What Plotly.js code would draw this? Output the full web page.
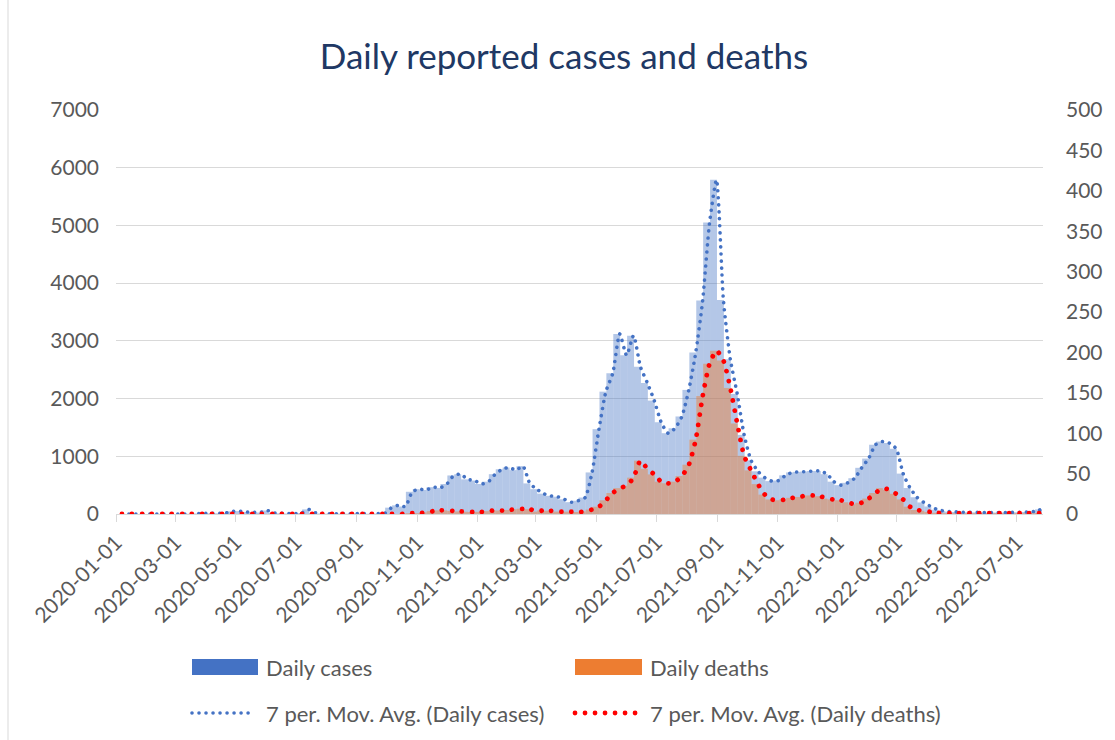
<!DOCTYPE html>
<html>
<head>
<meta charset="utf-8">
<script src="https://cdn.plot.ly/plotly-3.0.1.min.js"></script>
<style>
  html, body { margin: 0; padding: 0; background: #fff; }
  #chart { width: 1115px; height: 740px; }
  .js-line, .shapelayer path { stroke-linecap: round !important; }
</style>
</head>
<body>
<div id="chart"></div>
<script>
// Weekly blocks (7 days each) starting 2020-01-01; value = average daily count in the block
const blockCentre0 = '2020-01-04';   // centre of the first 7-day block (bars)
const blockEnd0 = '2020-01-07';      // last day of the first block (trailing 7-day average)
const WEEK_MS = 7 * 24 * 3600 * 1000;

const dailyCases = [
  0, 0, 0, 0, 0, 0, 0, 0, 0, 0,
  4, 9, 10, 10, 12, 18, 45, 50, 35, 30,
  25, 60, 20, 12, 8, 6, 15, 80, 20, 8,
  5, 5, 6, 5, 8, 6, 5, 6, 10, 110,
  150, 130, 385, 430, 416, 465, 452, 520, 668, 690,
  600, 580, 520, 560, 690, 775, 805, 760, 830, 530,
  430, 352, 315, 300, 255, 205, 230, 285, 720, 1470,
  2120, 2440, 3120, 2750, 3090, 2550, 2270, 1965, 1590, 1400,
  1485, 1690, 2150, 2800, 3700, 5050, 5790, 3710, 2680, 2080,
  1370, 930, 740, 630, 570, 580, 670, 720, 730, 735,
  745, 745, 690, 560, 500, 540, 620, 800, 960, 1200,
  1255, 1230, 1130, 700, 450, 290, 200, 130, 75, 50,
  40, 35, 30, 30, 28, 25, 25, 25, 25, 28,
  30, 35, 45, 80
];

const dailyDeaths = [
  0, 0, 0, 0, 0, 0, 0, 0, 0, 0,
  0, 0, 0, 0, 0, 0, 0, 0, 0, 0,
  0, 0, 0, 0, 0, 0, 0, 0, 0, 0,
  0, 0, 0, 0, 0, 0, 0, 0, 0, 0,
  0, 0.5, 1, 1, 2, 3.5, 4.5, 4.5, 3.7, 3.2,
  2.8, 2.5, 2.7, 3.5, 4.5, 4.3, 5, 5.8, 6.5, 6,
  3, 4.5, 4, 3, 2.9, 2.9, 2.5, 3.2, 5.5, 9,
  17, 26, 32, 35, 45, 66, 56, 49, 40, 38,
  40, 47, 61, 92, 146, 186, 202, 190, 156, 112,
  72, 54, 37, 24, 18, 17, 18, 20, 21, 23,
  23, 22, 19, 18, 17, 14.5, 12, 14, 19, 26,
  32, 30, 25, 18, 9, 5, 4, 2.5, 1.5, 1,
  1, 1, 1, 1, 1, 1, 1, 1, 1, 1,
  1, 1, 1, 1
];

const titleText = 'Daily reported cases and deaths';
const seriesNames = ['Daily cases', 'Daily deaths',
  '7 per. Mov. Avg. (Daily cases)', '7 per. Mov. Avg. (Daily deaths)'];
const casesTicks = [0, 1000, 2000, 3000, 4000, 5000, 6000, 7000];
const deathsTicks = [0, 50, 100, 150, 200, 250, 300, 350, 400, 450, 500];

const FONT = 'Lato, "Open Sans", sans-serif';
const GREY = '#595959';
const BLUE_DASH = '0.01px,7px';
const RED_DASH = '0.01px,10px';

// pixel -> paper helpers for the hand-made legend (plot area 116..1043 x 110..514)
const PL = 116, PR = 1043, PT = 110, PB = 514;
const px = v => (v - PL) / (PR - PL);
const py = v => (PB - v) / (PB - PT);

const traces = [
  {
    type: 'bar', name: seriesNames[0], x0: blockCentre0, dx: WEEK_MS, y: dailyCases,
    width: WEEK_MS, marker: { color: 'rgba(68,114,196,0.40)', line: { width: 0 } },
    xaxis: 'x', yaxis: 'y', hoverinfo: 'skip', showlegend: false
  },
  {
    type: 'bar', name: seriesNames[1], x0: blockCentre0, dx: WEEK_MS, y: dailyDeaths,
    width: WEEK_MS, marker: { color: 'rgba(237,125,49,0.45)', line: { width: 0 } },
    xaxis: 'x', yaxis: 'y2', hoverinfo: 'skip', showlegend: false
  },
  {
    type: 'scatter', mode: 'lines', name: seriesNames[2], x0: blockEnd0, dx: WEEK_MS, y: dailyCases,
    line: { color: '#4472C4', width: 3.6, dash: BLUE_DASH, shape: 'spline', smoothing: 0.6 },
    xaxis: 'x', yaxis: 'y3', hoverinfo: 'skip', showlegend: false
  },
  {
    type: 'scatter', mode: 'lines', name: seriesNames[3], x0: blockEnd0, dx: WEEK_MS, y: dailyDeaths,
    line: { color: '#FF0000', width: 4.8, dash: RED_DASH, shape: 'spline', smoothing: 0.6 },
    xaxis: 'x', yaxis: 'y4', hoverinfo: 'skip', showlegend: false
  }
];

const legendRow1 = 667, legendRow2 = 713;
const shapes = [
  // chart-area border (left edge)
  { type: 'line', xref: 'paper', yref: 'paper', x0: px(8), x1: px(8), y0: py(0), y1: py(740),
    line: { color: '#d9d9d9', width: 1 } },
  // legend keys
  { type: 'rect', xref: 'paper', yref: 'paper', x0: px(192), x1: px(258), y0: py(legendRow1 - 8), y1: py(legendRow1 + 8),
    fillcolor: '#4472C4', line: { width: 0 } },
  { type: 'rect', xref: 'paper', yref: 'paper', x0: px(575), x1: px(642), y0: py(legendRow1 - 8), y1: py(legendRow1 + 8),
    fillcolor: '#ED7D31', line: { width: 0 } },
  { type: 'line', xref: 'paper', yref: 'paper', x0: px(192), x1: px(254), y0: py(legendRow2), y1: py(legendRow2),
    line: { color: '#4472C4', width: 3.6, dash: BLUE_DASH } },
  { type: 'line', xref: 'paper', yref: 'paper', x0: px(575), x1: px(645), y0: py(legendRow2), y1: py(legendRow2),
    line: { color: '#FF0000', width: 4.8, dash: RED_DASH } }
];

const legendText = (txt, x, y) => ({
  text: txt, xref: 'paper', yref: 'paper', x: px(x), y: py(y), xanchor: 'left', yanchor: 'middle',
  showarrow: false, font: { family: FONT, size: 22, color: GREY }
});
const annotations = [
  legendText(seriesNames[0], 264, legendRow1),
  legendText(seriesNames[1], 648, legendRow1),
  legendText(seriesNames[2], 264, legendRow2),
  legendText(seriesNames[3], 648, legendRow2)
];

const layout = {
  width: 1115, height: 740,
  margin: { l: PL, r: 1115 - PR, t: PT, b: 740 - PB, pad: 0 },
  paper_bgcolor: '#ffffff', plot_bgcolor: '#ffffff',
  font: { family: FONT, color: GREY, size: 21 },
  showlegend: false,
  barmode: 'overlay',
  title: {
    text: titleText, font: { family: FONT, size: 35, color: '#203864' },
    xref: 'container', x: 564 / 1115, xanchor: 'center',
    yref: 'container', y: 1 - 57 / 740, yanchor: 'middle'
  },
  xaxis: {
    type: 'date', range: ['2020-01-01', '2022-07-27 14:00'],
    tick0: '2020-01-01', dtick: 'M2', tickformat: '%Y-%m-%d', tickangle: -45,
    ticks: 'outside', ticklen: 7, tickcolor: '#d9d9d9', tickwidth: 1,
    showline: true, linecolor: '#d9d9d9', linewidth: 1,
    showgrid: false, zeroline: false,
    tickfont: { family: FONT, size: 21, color: GREY }
  },
  yaxis: {
    range: [0, 7000], tickvals: casesTicks, ticktext: casesTicks.map(String),
    showgrid: true, gridcolor: '#d9d9d9', gridwidth: 1, zeroline: false, showline: false,
    ticks: '', ticklabelstandoff: 16,
    tickfont: { family: FONT, size: 21, color: GREY }
  },
  yaxis2: {
    range: [0, 500], tickvals: deathsTicks, ticktext: deathsTicks.map(String),
    overlaying: 'y', side: 'right', showgrid: false, zeroline: false, showline: false,
    ticks: '', ticklabelstandoff: 22,
    tickfont: { family: FONT, size: 21, color: GREY }
  },
  yaxis3: { range: [0, 7000], overlaying: 'y', visible: false, showgrid: false, zeroline: false },
  yaxis4: { range: [0, 500], overlaying: 'y', visible: false, showgrid: false, zeroline: false },
  shapes: shapes,
  annotations: annotations
};

Plotly.newPlot('chart', traces, layout, { staticPlot: true, displayModeBar: false });
</script>
</body>
</html>
